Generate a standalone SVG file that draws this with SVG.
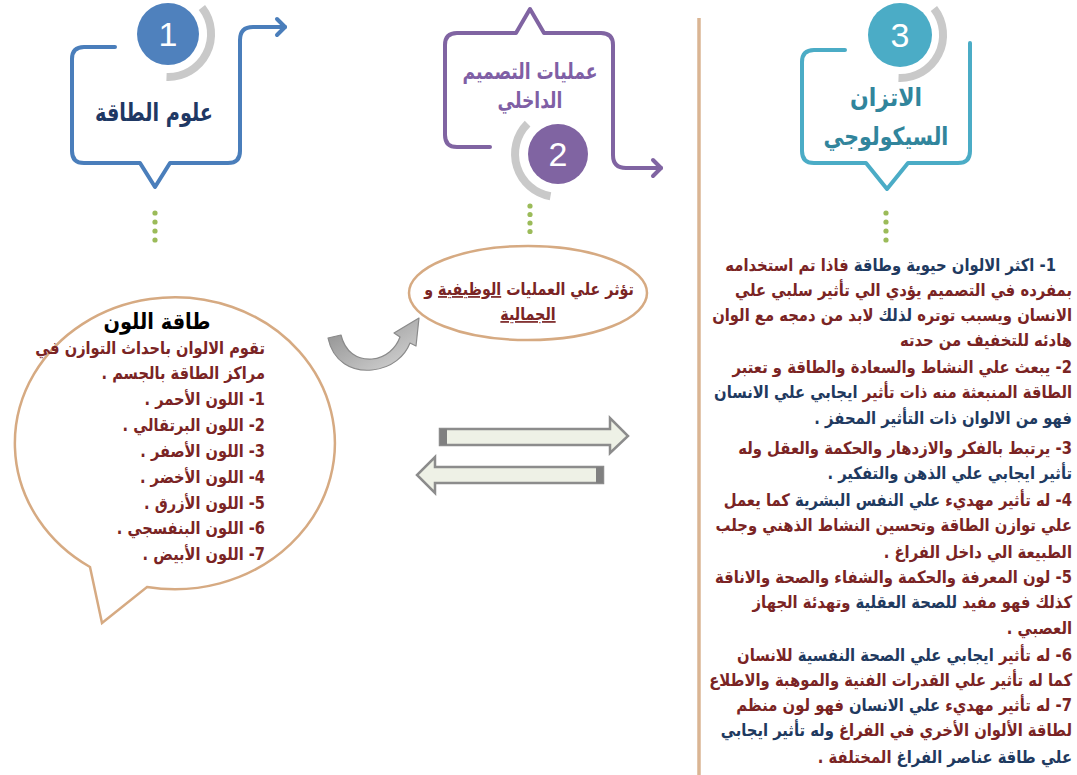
<svg xmlns="http://www.w3.org/2000/svg" width="1077" height="775" viewBox="0 0 1077 775">
<style>
.ar{font-family:'DejaVu Sans',sans-serif;font-weight:bold;}
.m{fill:#7a2424;}
.n{fill:#1f3a60;}
.num{font-family:'Liberation Sans',Arial,sans-serif;font-size:34px;fill:#ffffff;text-anchor:middle;}
.arc{fill:none;stroke:#c9c9c9;stroke-width:8;}
.dot{fill:#9bbb59;}
.callout{fill:none;stroke-width:4;stroke-linejoin:round;stroke-linecap:round;}
.body{font-size:17px;}
</style>
<defs>
<linearGradient id="cg" x1="0" y1="0" x2="1" y2="1">
<stop offset="0" stop-color="#8a8a8a"/>
<stop offset="1" stop-color="#d8d8d8"/>
</linearGradient>
</defs>
<rect width="1077" height="775" fill="#ffffff"/>

<line x1="699" y1="18" x2="699" y2="775" stroke="#dab593" stroke-width="3.5"/>

<g id="node1">
<path class="callout" stroke="#4a7ebb" d="M115,47 H84 Q72,47 72,59 V151 Q72,163 84,163 H140 L155,187 L170,163 H228 Q240,163 240,151 V40 Q240,27 253,27 H285"/>
<path class="callout" stroke="#4a7ebb" d="M277,19 L285,27 L277,35"/>
<path class="arc" d="M201.9,7.5 A43,43 0 0 1 166.5,77"/>
<circle cx="168" cy="34" r="31" fill="#4f81bd"/>
<text class="num" x="168" y="46">1</text>
<text class="ar" transform="translate(154,121) scale(0.77,1)" font-size="25" fill="#1f3864" text-anchor="middle" direction="rtl">علوم الطاقة</text>
<circle class="dot" cx="155" cy="213" r="2.6"/>
<circle class="dot" cx="155" cy="222" r="2.6"/>
<circle class="dot" cx="155" cy="231" r="2.6"/>
<circle class="dot" cx="155" cy="240" r="2.6"/>
</g>

<g id="node2">
<path class="callout" stroke="#8064a2" d="M490,147 H457 Q445,147 445,135 V45 Q445,33 457,33 H516 L530,9 L544,33 H601 Q613,33 613,45 V155 Q613,168 626,168 H661"/>
<path class="callout" stroke="#8064a2" d="M653,160 L661,168 L653,176"/>
<path class="arc" d="M527.6,123.6 A43,43 0 0 0 550.5,196.3"/>
<circle cx="558" cy="154" r="30" fill="#8064a2"/>
<text class="num" x="558" y="166">2</text>
<text class="ar" transform="translate(530,79) scale(0.78,1)" font-size="22" fill="#7f5fa5" text-anchor="middle" direction="rtl">عمليات التصميم</text>
<text class="ar" transform="translate(530,108) scale(0.78,1)" font-size="22" fill="#7f5fa5" text-anchor="middle" direction="rtl">الداخلي</text>
<circle class="dot" cx="530" cy="206" r="2.6"/>
<circle class="dot" cx="530" cy="214.5" r="2.6"/>
<circle class="dot" cx="530" cy="223" r="2.6"/>
<circle class="dot" cx="530" cy="231.5" r="2.6"/>
</g>

<g id="node3">
<path class="callout" stroke="#4bacc6" d="M845,50 H814 Q802,50 802,62 V151 Q802,163 814,163 H866 L887,189 L908,163 H958 Q970,163 970,151 V43"/>
<path class="arc" d="M933.9,8.5 A43,43 0 0 1 898.5,78"/>
<circle cx="900" cy="35" r="32" fill="#4bacc6"/>
<text class="num" x="900" y="47">3</text>
<text class="ar" transform="translate(886,106) scale(0.88,1)" font-size="25" fill="#31859c" text-anchor="middle" direction="rtl">الاتزان</text>
<text class="ar" transform="translate(886,145) scale(0.82,1)" font-size="25" fill="#31859c" text-anchor="middle" direction="rtl">السيكولوجي</text>
<circle class="dot" cx="886" cy="213" r="2.6"/>
<circle class="dot" cx="886" cy="222" r="2.6"/>
<circle class="dot" cx="886" cy="231" r="2.6"/>
<circle class="dot" cx="886" cy="240" r="2.6"/>
</g>

<g id="colour-energy">
<path d="M90,567 A160,146 0 1 1 147,587 L102,623 Z" fill="#ffffff" stroke="#d6aa82" stroke-width="2.5" stroke-linejoin="miter"/>
<text class="ar" transform="translate(157,329) scale(0.88,1)" font-size="22" fill="#000000" text-anchor="middle" direction="rtl">طاقة اللون</text>
<g class="ar m" font-size="17" direction="rtl" text-anchor="start" transform="translate(265,0) scale(0.86,1)">
<text x="0" y="354">تقوم الالوان باحداث التوازن في</text>
<text x="0" y="379">مراكز الطاقة بالجسم .</text>
<text x="0" y="405">1- اللون الأحمر .</text>
<text x="0" y="431">2- اللون البرتقالي .</text>
<text x="0" y="457">3- اللون الأصفر .</text>
<text x="0" y="483">4- اللون الأخضر .</text>
<text x="0" y="509">5- اللون الأزرق .</text>
<text x="0" y="534">6- اللون البنفسجي .</text>
<text x="0" y="560">7- اللون الأبيض .</text>
</g>
</g>

<g id="effect-oval">
<ellipse cx="528" cy="293" rx="119" ry="47" fill="#ffffff" stroke="#d6aa82" stroke-width="2.5"/>
<text class="ar m" transform="translate(529,295) scale(0.84,1)" font-size="17" text-anchor="middle" direction="rtl">تؤثر علي العمليات <tspan text-decoration="underline">الوظيفية</tspan> و</text>
<text class="ar m" transform="translate(528,320) scale(0.84,1)" font-size="17" text-anchor="middle" direction="rtl" text-decoration="underline">الجمالية</text>
</g>

<g id="psych-text" class="ar body" direction="rtl" text-anchor="start" transform="translate(1072,0) scale(0.87,1)">
<text x="-18.4" y="271"><tspan class="n">1-  اكثر الالوان حيوية وطاقة </tspan><tspan class="m">فاذا تم استخدامه</tspan></text>
<text x="0" y="296" class="m">بمفرده في التصميم يؤدي الي تأثير سلبي علي</text>
<text x="0" y="321"><tspan class="m">الانسان ويسبب توتره </tspan><tspan class="n">لذلك</tspan><tspan class="m"> لابد من دمجه مع الوان</tspan></text>
<text x="0" y="346" class="m">هادئه للتخفيف من حدته</text>
<text x="0" y="373" class="m">2- يبعث علي النشاط والسعادة والطاقة و تعتبر</text>
<text x="0" y="398"><tspan class="m">الطاقة المنبعثة منه ذات تأثير </tspan><tspan class="n">ايجابي علي الانسان</tspan></text>
<text x="0" y="424" class="n">فهو  من الالوان ذات التأثير المحفز .</text>
<text x="0" y="454" class="m">3- يرتبط بالفكر والازدهار والحكمة والعقل وله</text>
<text x="0" y="479" class="n">تأثير ايجابي علي الذهن والتفكير .</text>
<text x="0" y="506"><tspan class="m">4- له تأثير مهديء </tspan><tspan class="n">علي النفس البشرية</tspan><tspan class="m"> كما يعمل</tspan></text>
<text x="0" y="531" class="m">علي توازن الطاقة وتحسين النشاط الذهني وجلب</text>
<text x="0" y="558" class="m">الطبيعة الي داخل الفراغ .</text>
<text x="0" y="583" class="m">5-  لون المعرفة والحكمة والشفاء والصحة والاناقة</text>
<text x="0" y="608"><tspan class="m">كذلك فهو مفيد </tspan><tspan class="n">للصحة العقلية</tspan><tspan class="m"> وتهدئة الجهاز</tspan></text>
<text x="0" y="634" class="m">العصبي .</text>
<text x="0" y="661"><tspan class="m">6- له تأثير </tspan><tspan class="n">ايجابي علي الصحة النفسية</tspan><tspan class="m"> للانسان</tspan></text>
<text x="0" y="686" class="m">كما له تأثير علي القدرات الفنية والموهبة والاطلاع</text>
<text x="0" y="711"><tspan class="m">7- له تأثير مهديء </tspan><tspan class="n">علي الانسان</tspan><tspan class="m">  فهو لون منظم</tspan></text>
<text x="0" y="736"><tspan class="m">لطاقة الألوان الأخري في الفراغ </tspan><tspan class="n">وله تأثير ايجابي</tspan></text>
<text x="0" y="763"><tspan class="n">علي طاقة عناصر الفراغ </tspan><tspan class="m">المختلفة  .</tspan></text>
</g>

<g id="connectors">
<path d="M328,338 C333,362 352,372 372,370 C392,368 405,356 410,343 L416,346 L419,318 L394,333 L400,337 C396,348 386,358 372,359 C357,360 345,352 341,335 Z" fill="url(#cg)" stroke="#8a8a8a" stroke-width="1.2" stroke-linejoin="round"/>
<path d="M440,429 H610 V418 L628,436 L610,453 V445 H440 Z" fill="#eef1e6" stroke="#8c8c8c" stroke-width="2.5" stroke-linejoin="miter"/>
<rect x="440" y="429" width="7" height="16" fill="#808080"/>
<path d="M603,467 H435 V457 L417,475 L435,493 V483 H603 Z" fill="#eef1e6" stroke="#8c8c8c" stroke-width="2.5" stroke-linejoin="miter"/>
<rect x="596" y="467" width="7" height="16" fill="#808080"/>
</g>
</svg>
